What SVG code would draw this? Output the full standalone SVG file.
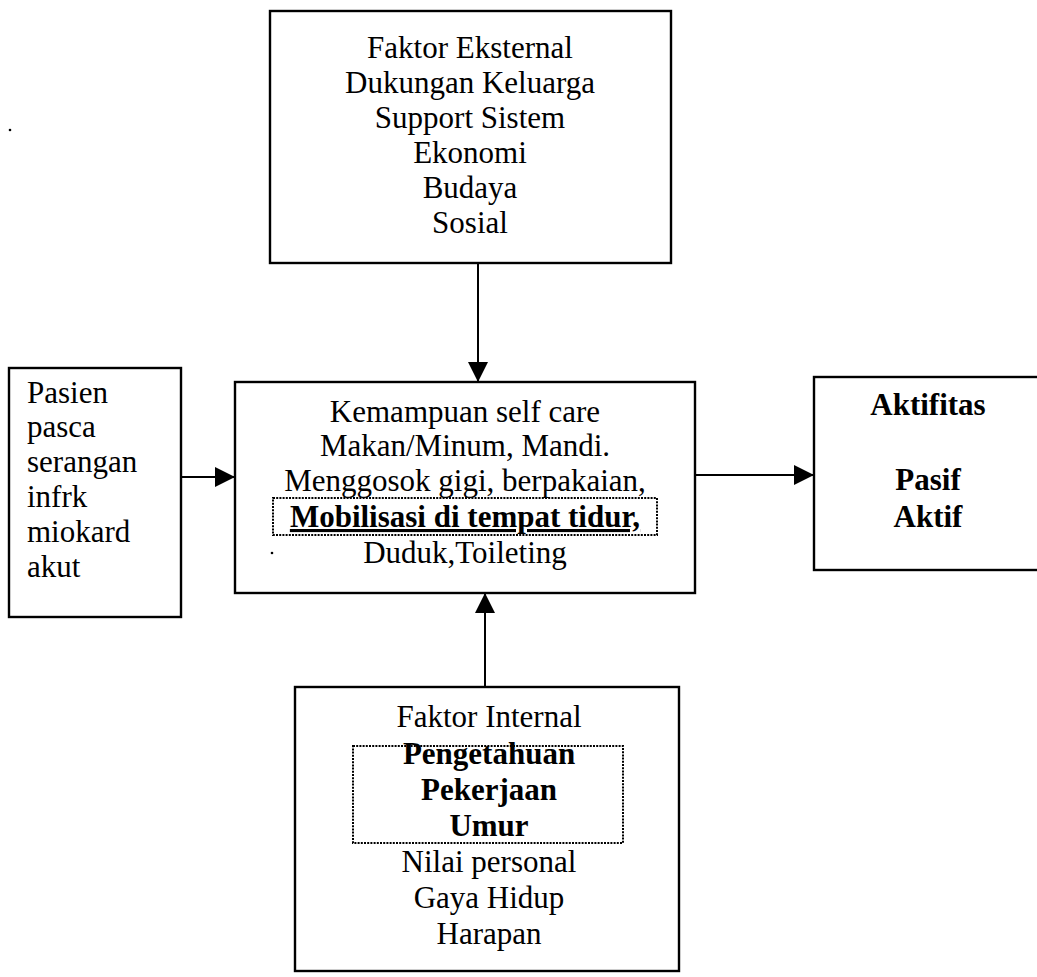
<svg xmlns="http://www.w3.org/2000/svg" width="1037" height="977" viewBox="0 0 1037 977">
<defs>
<style>
.box{fill:none;stroke:#000;stroke-width:2.4}
.dot{fill:none;stroke:#000;stroke-width:2;stroke-dasharray:2 1.2}
.t{font-family:"Liberation Serif","Times New Roman",serif;font-size:31px;fill:#000}
.c{text-anchor:middle}
.b{font-weight:bold}
.con{stroke:#000;stroke-width:2;fill:none}
</style>
<marker id="ah" viewBox="0 0 20 20" refX="20" refY="10" markerWidth="20" markerHeight="20" markerUnits="userSpaceOnUse" orient="auto">
<path d="M0,0 L20,10 L0,20 Z" fill="#000"/>
</marker>
</defs>
<rect width="1037" height="977" fill="#fff"/>
<g id="connectors">
<line class="con" x1="478" y1="263" x2="478" y2="382" marker-end="url(#ah)"/>
<line class="con" x1="181" y1="477" x2="235" y2="477" marker-end="url(#ah)"/>
<line class="con" x1="695" y1="475" x2="814" y2="475" marker-end="url(#ah)"/>
<line class="con" x1="485" y1="687" x2="485" y2="593" marker-end="url(#ah)"/>
</g>
<g id="faktor-eksternal">
<rect class="box" x="270" y="11" width="401" height="252"/>
<text class="t c" x="470" y="58">Faktor Eksternal</text>
<text class="t c" x="470" y="93">Dukungan Keluarga</text>
<text class="t c" x="470" y="128">Support Sistem</text>
<text class="t c" x="470" y="163">Ekonomi</text>
<text class="t c" x="470" y="198">Budaya</text>
<text class="t c" x="470" y="233">Sosial</text>
</g>
<g id="pasien">
<rect class="box" x="9" y="368" width="172" height="249"/>
<text class="t" x="27" y="403">Pasien</text>
<text class="t" x="27" y="437">pasca</text>
<text class="t" x="27" y="472">serangan</text>
<text class="t" x="27" y="507">infrk</text>
<text class="t" x="27" y="542">miokard</text>
<text class="t" x="27" y="577">akut</text>
</g>
<g id="self-care">
<rect class="box" x="235" y="382" width="460" height="211"/>
<text class="t c" x="465" y="422">Kemampuan self care</text>
<text class="t c" x="465" y="456">Makan/Minum, Mandi.</text>
<text class="t c" x="465" y="491">Menggosok gigi, berpakaian,</text>
<rect class="dot" x="273" y="498" width="384" height="37"/>
<text class="t c b" x="465" y="527" text-decoration="underline">Mobilisasi di tempat tidur,</text>
<text class="t c" x="465" y="563">Duduk,Toileting</text>
<circle cx="272" cy="553" r="1.3" fill="#000"/>
</g>
<g id="aktifitas">
<rect class="box" x="814" y="377" width="230" height="193"/>
<text class="t c b" x="928" y="415">Aktifitas</text>
<text class="t c b" x="928" y="490">Pasif</text>
<text class="t c b" x="928" y="527">Aktif</text>
</g>
<g id="faktor-internal">
<rect class="box" x="295" y="687" width="384" height="284"/>
<text class="t c" x="489" y="727">Faktor Internal</text>
<rect class="dot" x="353" y="746" width="270" height="97"/>
<text class="t c b" x="489" y="764">Pengetahuan</text>
<text class="t c b" x="489" y="800">Pekerjaan</text>
<text class="t c b" x="489" y="836">Umur</text>
<text class="t c" x="489" y="872">Nilai personal</text>
<text class="t c" x="489" y="908">Gaya Hidup</text>
<text class="t c" x="489" y="944">Harapan</text>
</g>
<circle cx="10" cy="130" r="1.3" fill="#000"/>
</svg>
